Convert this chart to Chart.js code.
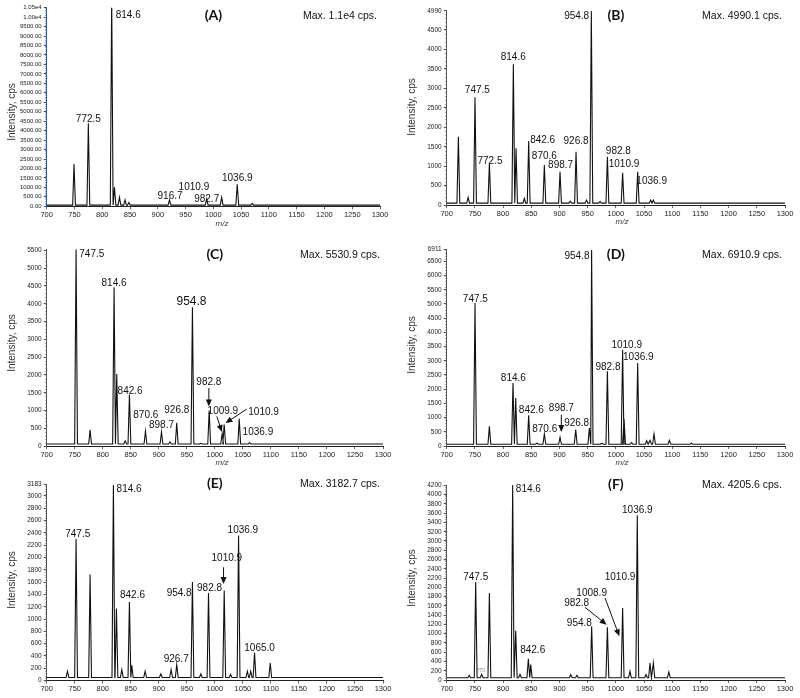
<!DOCTYPE html>
<html>
<head>
<meta charset="utf-8">
<script src="https://cdn.jsdelivr.net/npm/chart.js@4.4.1/dist/chart.umd.min.js"></script>
<style>
  html, body { margin: 0; padding: 0; background: #fff; }
  #wrap { position: relative; width: 800px; height: 698px; overflow: hidden; }
  canvas { position: absolute; }
</style>
</head>
<body>
<div id="wrap">
  <canvas id="cA"></canvas><canvas id="cB"></canvas>
  <canvas id="cC"></canvas><canvas id="cD"></canvas>
  <canvas id="cE"></canvas><canvas id="cF"></canvas>
</div>
<script>
// shared m/z ticks
const mzTicks = [700, 750, 800, 850, 900, 950, 1000, 1050, 1100, 1150, 1200, 1250, 1300];

// (A)
const mzA  = [749.2, 775, 817, 822, 831, 841, 848, 921, 988, 1015, 1043, 1070];
const intA = [2236, 4384, 11000, 1004, 475, 335, 200, 335, 387, 475, 1162, 158];
const yTicksA = [0, 500, 1000, 1500, 2000, 2500, 3000, 3500, 4000, 4500, 5000, 5500, 6000, 6500, 7000, 7500, 8000, 8500, 9000, 9500, 10000, 10500];
const labelsA = [['814.6', 846.7, 10106], ['772.5', 775, 4613], ['916.7', 922, 510], ['982.7', 988, 370], ['1010.9', 965, 986], ['1036.9', 1043, 1479]];

// (B)
const mzB  = [720.7, 738, 750.2, 775.7, 818.2, 823, 837.7, 845.4, 873.2, 901, 919, 929.4, 948, 956.5, 972, 985, 1012, 1038.7, 1061.8, 1066.5];
const intB = [1758, 200, 2770, 1072, 3619, 1458, 170, 1647, 1030, 858, 100, 1372, 130, 4990, 90, 1244, 832, 858, 130, 130];
const yTicksB = [0, 500, 1000, 1500, 2000, 2500, 3000, 3500, 4000, 4500, 4990];
const labelsB = [['954.8', 930.5, 4845], ['814.6', 818, 3800], ['747.5', 754.4, 2960], ['772.5', 776.8, 1115], ['842.6', 870.2, 1655], ['870.6', 873.2, 1245], ['898.7', 902, 1012], ['926.8', 929.4, 1630], ['982.8', 1004.4, 1372], ['1010.9', 1014.5, 1055], ['1036.9', 1063.5, 617]];

// (C)
const mzC  = [752.4, 777.4, 820.2, 825, 840, 847.6, 876.2, 904.8, 920, 932, 960, 975, 989.9, 1013, 1016.7, 1043.5, 1062];
const intC = [5531, 458, 4462, 2030, 150, 1450, 420, 400, 120, 655, 3900, 80, 1000, 350, 608, 767, 100];
const yTicksC = [0, 500, 1000, 1500, 2000, 2500, 3000, 3500, 4000, 4500, 5000, 5500];
const labelsC = [['747.5', 780.4, 5378], ['814.6', 820.2, 4583], ['954.8', 958.3, 4050], ['842.6', 848.8, 1543], ['870.6', 876.8, 860], ['898.7', 904.8, 590], ['926.8', 932.1, 1000], ['982.8', 989.3, 1805], ['1009.9', 1014.3, 982], ['1010.9', 1086.9, 963], ['1036.9', 1076.8, 402]];
const arrowsC = [[989.3, 1633, 989.3, 1118], [1003.6, 837, 1012.5, 397], [1057.1, 1043, 1019, 650]];

// (D)
const mzD  = [750.2, 775.7, 817.6, 822.4, 845.4, 860, 873.2, 901, 928.8, 953, 957, 975, 985, 1012, 1014.5, 1028, 1038.7, 1054.7, 1060.6, 1067.7, 1094.9, 1134];
const intD = [5033, 692, 2218, 1690, 1079, 100, 422, 305, 575, 634, 6911, 100, 2628, 3391, 962, 120, 2922, 188, 200, 422, 200, 106];
const yTicksD = [0, 500, 1000, 1500, 2000, 2500, 3000, 3500, 4000, 4500, 5000, 5500, 6000, 6500, 6911];
const labelsD = [['954.8', 931.1, 6676], ['747.5', 750.8, 5174], ['814.6', 818.2, 2370], ['842.6', 850.1, 1244], ['870.6', 873.8, 575], ['898.7', 903.3, 1314], ['926.8', 930.5, 810], ['982.8', 986.1, 2769], ['1010.9', 1019.2, 3543], ['1036.9', 1039.9, 3133]];
const arrowsD = [[903.3, 1103, 903.3, 493]];

// (E)
const mzE  = [737, 752.4, 777.4, 819, 824.4, 834, 847.6, 851.8, 875.6, 903.6, 922, 932, 960, 975, 988.7, 1016.7, 1028, 1042.3, 1058, 1064, 1070.8, 1098.8];
const intE = [150, 2302, 1723, 3183, 1170, 179, 1278, 249, 152, 108, 179, 260, 1603, 108, 1425, 1463, 100, 2356, 152, 152, 450, 287];
const yTicksE = [0, 200, 400, 600, 800, 1000, 1200, 1400, 1600, 1800, 2000, 2200, 2400, 2600, 2800, 3000, 3183];
const labelsE = [['814.6', 847, 3109], ['747.5', 755.4, 2383], ['842.6', 853, 1387], ['954.8', 936.3, 1425], ['982.8', 990.5, 1506], ['1010.9', 1021.4, 1993], ['1036.9', 1050, 2438], ['926.7', 931, 352], ['1065.0', 1079.8, 531]];
const arrowsE = [[1015.5, 1842, 1015.5, 1571]];

// (F)
const mzF  = [740, 751.4, 762, 775.7, 817, 822.4, 830, 844.8, 849, 920, 931, 957.1, 985, 1012, 1025, 1038, 1053.5, 1060.6, 1066.5, 1094];
const intF = [100, 2115, 120, 1878, 4206, 1065, 120, 460, 331, 115, 100, 1158, 1137, 1554, 187, 3554, 115, 367, 367, 173];
const yTicksF = [0, 200, 400, 600, 800, 1000, 1200, 1400, 1600, 1800, 2000, 2200, 2400, 2600, 2800, 3000, 3200, 3400, 3600, 3800, 4000, 4200];
const labelsF = [['814.6', 844.8, 4108], ['747.5', 751.4, 2216], ['842.6', 852.5, 640], ['1036.9', 1038.1, 3655], ['1010.9', 1007.4, 2223], ['1008.9', 957.1, 1878], ['982.8', 930.5, 1655], ['954.8', 935.3, 1230], ['770.', 762, 209]];
const arrowsF = [[980.8, 1770, 1006.2, 942], [945.3, 1568, 983.7, 1194]];

const FONT = '"Liberation Sans", Arial, sans-serif';

function spectrum(mzs, ints, base) {
  const pts = [{ x: 700, y: base }];
  const order = mzs.map((m, i) => i).sort((a, b) => mzs[a] - mzs[b]);
  order.forEach(i => {
    pts.push({ x: mzs[i] - 2.5, y: base }, { x: mzs[i], y: ints[i] }, { x: mzs[i] + 2.5, y: base });
  });
  pts.push({ x: 1300, y: base });
  return pts;
}

function arrow(ctx, x1, y1, x2, y2) {
  const a = Math.atan2(y2 - y1, x2 - x1);
  ctx.beginPath();
  ctx.moveTo(x1, y1);
  ctx.lineTo(x2 - 5 * Math.cos(a), y2 - 5 * Math.sin(a));
  ctx.stroke();
  ctx.beginPath();
  ctx.moveTo(x2, y2);
  ctx.lineTo(x2 - 7 * Math.cos(a) + 3 * Math.sin(a), y2 - 7 * Math.sin(a) - 3 * Math.cos(a));
  ctx.lineTo(x2 - 7 * Math.cos(a) - 3 * Math.sin(a), y2 - 7 * Math.sin(a) + 3 * Math.cos(a));
  ctx.closePath();
  ctx.fill();
}

function annot(p) {
  return {
    id: 'annot',
    afterDraw(chart) {
      const ctx = chart.ctx, xs = chart.scales.x, ys = chart.scales.y, ca = chart.chartArea;
      ctx.save();
      // small minor ticks on the y axis
      ctx.strokeStyle = p.axisColor;
      ctx.globalAlpha = 0.6;
      ctx.lineWidth = 1;
      ctx.beginPath();
      for (let v = 0; v <= p.ymax; v += p.minor) {
        const y = Math.round(ys.getPixelForValue(v)) + 0.5;
        ctx.moveTo(ca.left - 1.5, y);
        ctx.lineTo(ca.left, y);
      }
      ctx.stroke();
      ctx.globalAlpha = 1;

      ctx.strokeStyle = '#111';
      ctx.textAlign = 'center';
      ctx.textBaseline = 'middle';
      p.labels.forEach(([t, mz, v]) => {
        ctx.font = (t === p.big ? '12px ' : t === p.tiny ? '5px ' : '10px ') + FONT;
        ctx.fillStyle = t === p.tiny ? '#888' : '#111';
        ctx.fillText(t, xs.getPixelForValue(mz), ys.getPixelForValue(v));
      });
      ctx.fillStyle = '#111';
      ctx.lineWidth = 1;
      (p.arrows || []).forEach(([m1, v1, m2, v2]) => {
        arrow(ctx, xs.getPixelForValue(m1), ys.getPixelForValue(v1), xs.getPixelForValue(m2), ys.getPixelForValue(v2));
      });

      ctx.font = 'bold 14px Lato, ' + FONT;
      ctx.fillText(p.title, (ca.left + ca.right) / 2, p.headY);
      ctx.font = '10.5px ' + FONT;
      ctx.textAlign = 'right';
      ctx.fillText(p.maxText, ca.right - 3, p.headY + 1);

      ctx.fillStyle = '#333';
      ctx.textAlign = 'center';
      ctx.font = '10px ' + FONT;
      ctx.save();
      ctx.translate(12, p.yTitleY);
      ctx.rotate(-Math.PI / 2);
      ctx.fillText('Intensity, cps', 0, 0);
      ctx.restore();
      if (p.showMz) {
        ctx.font = 'italic 8px ' + FONT;
        ctx.fillText('m/z', 222, ca.bottom + 17);
      }
      ctx.restore();
    }
  };
}

function panel(id, left, top, w, h, area, p) {
  const cv = document.getElementById(id);
  cv.width = w; cv.height = h;
  cv.style.left = left + 'px'; cv.style.top = top + 'px';
  new Chart(cv, {
    type: 'line',
    data: {
      datasets: [{
        data: spectrum(p.mz, p.int, p.base),
        borderColor: '#111',
        borderWidth: 1.1,
        pointRadius: 0,
        tension: 0,
        fill: false
      }]
    },
    options: {
      responsive: false,
      animation: false,
      events: [],
      layout: { padding: { left: 0, top: area.t, right: w - area.r, bottom: 0 } },
      plugins: { legend: { display: false }, tooltip: { enabled: false } },
      scales: {
        x: {
          type: 'linear', min: 700, max: 1300,
          afterBuildTicks: s => { s.ticks = mzTicks.map(v => ({ value: v })); },
          afterFit: s => { s.height = h - area.b; },
          ticks: { autoSkip: false, maxRotation: 0, padding: 1, color: '#222', font: { size: 7.5, family: FONT }, callback: v => String(v) },
          grid: { drawOnChartArea: false, tickLength: 3, color: '#666' },
          border: { color: '#222' }
        },
        y: {
          min: 0, max: p.ymax,
          afterBuildTicks: s => { s.ticks = p.yTicks.map(v => ({ value: v })); },
          afterFit: s => { s.width = area.l; },
          ticks: { autoSkip: false, padding: 2, color: '#222', font: { size: p.tickSize, family: FONT }, callback: p.fmt },
          grid: { drawOnChartArea: false, tickLength: 3, color: p.axisColor },
          border: { color: p.axisColor }
        }
      }
    },
    plugins: [annot(p)]
  });
}

const fmtA = v => v >= 10000 ? (v / 10000).toFixed(2) + 'e4' : v.toFixed(2);
const fmtN = v => String(v);

panel('cA', 0, 0, 400, 228, { l: 46.7, r: 380, t: 7.7, b: 206.3 },
  { mz: mzA, int: intA, base: 60, ymax: 10500, yTicks: yTicksA, fmt: fmtA, tickSize: 6, minor: 100, axisColor: '#3a559e',
    labels: labelsA, title: '(A)', maxText: 'Max. 1.1e4 cps.', headY: 15, yTitleY: 112, showMz: true });
panel('cB', 400, 0, 400, 228, { l: 46.7, r: 385, t: 10.9, b: 205.1 },
  { mz: mzB, int: intB, base: 50, ymax: 4990, yTicks: yTicksB, fmt: fmtN, tickSize: 6.5, minor: 100, axisColor: '#555',
    labels: labelsB, title: '(B)', maxText: 'Max. 4990.1 cps.', headY: 15, yTitleY: 107, showMz: true });
panel('cC', 0, 228, 400, 242, { l: 46.7, r: 383, t: 21.2, b: 218.2 },
  { mz: mzC, int: intC, base: 60, ymax: 5531, yTicks: yTicksC, fmt: fmtN, tickSize: 6.5, minor: 100, axisColor: '#555',
    labels: labelsC, arrows: arrowsC, big: '954.8', title: '(C)', maxText: 'Max. 5530.9 cps.', headY: 26, yTitleY: 115, showMz: true });
panel('cD', 400, 228, 400, 242, { l: 46.7, r: 385, t: 21.7, b: 218 },
  { mz: mzD, int: intD, base: 60, ymax: 6911, yTicks: yTicksD, fmt: fmtN, tickSize: 6.5, minor: 100, axisColor: '#555',
    labels: labelsD, arrows: arrowsD, title: '(D)', maxText: 'Max. 6910.9 cps.', headY: 26.5, yTitleY: 117, showMz: true });
panel('cE', 0, 458, 400, 240, { l: 46.7, r: 383, t: 26.7, b: 222.6 },
  { mz: mzE, int: intE, base: 50, ymax: 3183, yTicks: yTicksE, fmt: fmtN, tickSize: 6.5, minor: 40, axisColor: '#555',
    labels: labelsE, arrows: arrowsE, title: '(E)', maxText: 'Max. 3182.7 cps.', headY: 25, yTitleY: 122, showMz: false });
panel('cF', 400, 458, 400, 240, { l: 46.7, r: 385, t: 27.1, b: 222 },
  { mz: mzF, int: intF, base: 50, ymax: 4206, yTicks: yTicksF, fmt: fmtN, tickSize: 6.5, minor: 40, axisColor: '#555',
    labels: labelsF, arrows: arrowsF, tiny: '770.', title: '(F)', maxText: 'Max. 4205.6 cps.', headY: 26, yTitleY: 120, showMz: false });
</script>
</body>
</html>
